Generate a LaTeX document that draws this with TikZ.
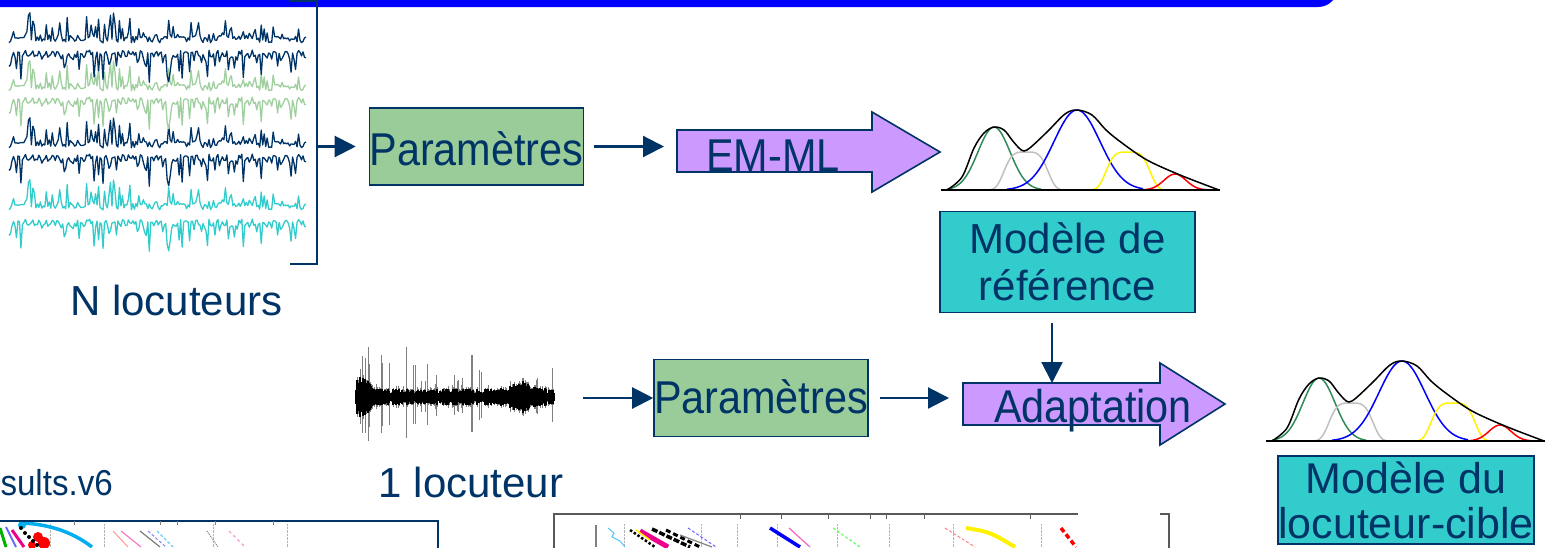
\documentclass[tikz,border=0pt]{standalone}
\usepackage{fontspec}
\setmainfont{Liberation Sans}
\usetikzlibrary{arrows.meta}
\definecolor{navy}{RGB}{0,51,102}
\definecolor{hdr}{RGB}{0,0,255}
\definecolor{pgreen}{RGB}{153,204,153}
\definecolor{mteal}{RGB}{51,204,204}
\definecolor{mpurple}{RGB}{204,153,255}
\definecolor{wgreen}{RGB}{160,208,160}
\definecolor{wcyan}{RGB}{51,204,204}
\definecolor{sgreen}{RGB}{46,139,87}
\definecolor{lgray}{RGB}{192,192,192}
\tikzset{
  conn/.style={navy, line width=2.2pt, -{Triangle[length=21pt,width=21pt]}},
  parbox/.style={draw=navy, line width=1.6pt, fill=pgreen, minimum width=213pt, minimum height=77pt, inner sep=0pt, text=navy, font=\fontsize{46}{52}\selectfont, text depth=0pt},
  modbox/.style={draw=navy, line width=1.6pt, fill=mteal, inner sep=0pt, text=navy, align=center},
  barrow/.style={draw=navy, line width=1.6pt, fill=mpurple, line join=miter},
  lab/.style={text=navy, inner sep=0pt},
  gline/.style={line width=1.5pt},
  wav/.style={line width=1.3pt, line join=round},
}
\newcommand\wavepair[3]{%
  \pgfmathsetseed{5}
  \draw[wav,#1] plot[domain=9:306,samples=200] (\x,{#2 + 3 - 7*rnd - 27*pow(rnd,6)});
  \pgfmathsetseed{9}
  \draw[wav,#1] plot[domain=9:306,samples=200] (\x,{#3 - 3 + 7*rnd + 29*pow(rnd,6)});
}
\newcommand\gmmcurves{%
  \draw[gline, sgreen] plot[domain=947:1041,samples=50] (\x,{190-63*exp(-0.5*((\x-994)/16)^2)});
  \draw[gline, lgray] plot[domain=988:1064,samples=50] (\x,{190-38*exp(-1*((\x-1026)/24)^4)});
  \draw[gline, blue] plot[domain=1007:1143,samples=60] (\x,{190-80*exp(-0.5*((\x-1077)/23)^2)});
  \draw[gline, yellow] plot[domain=1090:1166,samples=50] (\x,{190-38*exp(-1*((\x-1128)/24)^4)});
  \draw[gline, red] plot[domain=1141:1211,samples=40] (\x,{190-16*exp(-0.5*((\x-1175)/11)^2)});
  \draw[gline, black] plot[smooth, tension=0.55] coordinates {(947,190) (962,177) (974,148) (984,133) (994,127) (1004,130) (1012,140) (1019,148) (1024,151) (1031,147) (1048,131) (1065,114) (1077,110) (1092,115) (1106,130) (1122,143) (1147,160) (1180,175) (1219,190)};
  \draw[line width=1.8pt] (941,190) -- (1220,190);
}
\begin{document}
\begin{tikzpicture}[x=1pt,y=-1pt]
\useasboundingbox (0,0) rectangle (1546,547);
\clip (0,0) rectangle (1546,547);
% header bar
\fill[hdr, rounded corners=20pt] (-30,-40) rectangle (1338,7);

% N speakers waveforms
\wavepair{wcyan}{207}{222}
\wavepair{navy}{145}{157}
\wavepair{wgreen}{88}{100}
\wavepair{navy}{40}{53}

% bracket
\draw[navy, line width=2pt] (290,1) -- (317,1) -- (317,264) -- (290,264);
\coordinate (brk) at (317,146.5);

% top row
\node[parbox, text height=37pt] (par1) at (476.5,146.5) {\scalebox{0.9}[1]{Paramètres}};
\draw[conn] (brk) -- ([xshift=-13pt]par1.west);

\draw[barrow] (677,130) -- (872,130) -- (872,112) -- (940,152) -- (872,192) -- (872,172) -- (677,172) -- cycle;
\coordinate (emml-w) at (677,146.5);
\node[lab, anchor=base, font=\fontsize{46}{52}\selectfont] (emml) at (773,171) {\scalebox{0.9}[1]{EM-ML}};
\draw[conn] ([xshift=10pt]par1.east) -- ([xshift=-13pt]emml-w);

\gmmcurves

\node[modbox, minimum width=255pt, minimum height=101pt, font=\fontsize{42}{47}\selectfont] (ref) at (1067.5,262) {Modèle de\\référence};

\node[lab, anchor=base, font=\fontsize{42}{48}\selectfont] (nloc) at (176.5,315) {N locuteurs};

% second row: single speaker waveform
\pgfmathsetseed{3}
\foreach \i in {0,...,198}{
  \pgfmathsetmacro\xx{356+\i}
  \pgfmathsetmacro\env{1+1.6*exp(-min(((\xx-362)/8)^2,20))+0.9*exp(-min(((\xx-522)/14)^2,20))}
  \pgfmathsetmacro\hh{(4+6*rnd)*\env}
  \pgfmathsetmacro\ss{44*pow(rnd,12)}
  \draw[gray, line width=1pt] (\xx,397-\hh-\ss) -- (\xx,397+\hh+0.8*\ss);
  \draw[black, line width=1.1pt] (\xx,397-0.85*\hh) -- (\xx,397+0.85*\hh);
}
\coordinate (w1-e) at (583,398);

\node[parbox, text height=30pt] (par2) at (761,398) {\scalebox{0.9}[1]{Paramètres}};
\draw[conn] (w1-e) -- (par2.west);

\draw[barrow] (963,383) -- (1160,383) -- (1160,363) -- (1225,404) -- (1160,445) -- (1160,425) -- (963,425) -- cycle;
\coordinate (adapt-w) at (963,398);
\coordinate (adapt-n) at (1052,383);
\node[lab, anchor=base, font=\fontsize{46}{52}\selectfont] (adapt) at (1093,422) {\scalebox{0.9}[1]{Adaptation}};
\draw[conn] ([xshift=11pt]par2.east) -- ([xshift=-14pt]adapt-w);
\draw[conn] ([yshift=-10pt]ref.south -| adapt-n) -- (adapt-n);

\begin{scope}[shift={(325,251)}]
  \gmmcurves
\end{scope}

\node[modbox, minimum width=256pt, minimum height=88pt, font=\fontsize{43}{45}\selectfont] (cible) at (1406,500) {Modèle du\\locuteur-cible};

\node[lab, anchor=base, font=\fontsize{42}{48}\selectfont] (oneloc) at (471,497) {1 locuteur};
\node[lab, anchor=base east, font=\fontsize{36}{40}\selectfont] (res) at (113,495) {\scalebox{0.92}[1]{sults.v6}};

% bottom-left plot
\begin{scope}
  \clip (0,521) rectangle (438,547);
  \draw[gray!60, densely dotted] (50,524) -- (50,547) (104,524) -- (104,547) (213,524) -- (213,547) (287,524) -- (287,547);
  \draw[green!70!black, line width=3pt] (0,528) -- (6,547);
  \draw[blue!60, line width=2pt] (6,527) -- (16,547);
  \draw[magenta, line width=3pt] (12,530) -- (24,547);
  \draw[cyan, line width=3.5pt] (22,523) .. controls (45,524) and (70,530) .. (92,547);
  \fill[red] (38,537) circle (5pt) (44,543) circle (6pt) (32,545) circle (4pt);
  \fill[cyan] (22,525) circle (4pt);
  \fill[black] (21,528) circle (2pt) (25,533) circle (2pt) (29,537) circle (2pt) (33,541) circle (2pt) (37,545) circle (2pt);
  \draw[red!40, line width=1pt] (113,531) -- (128,547);
  \draw[magenta!50, line width=1.2pt] (121,531) -- (141,547);
  \draw[gray, line width=1.2pt] (140,531) -- (160,547);
  \draw[blue!50, densely dashed, line width=1pt] (148,531) -- (166,547);
  \draw[cyan!60, densely dashed, line width=1.2pt] (157,531) -- (173,547);
  \draw[gray, densely dotted, line width=1pt] (207,531) -- (218,547);
  \draw[magenta!40, dashed, line width=1.2pt] (229,531) -- (245,547);
\end{scope}
\draw[navy, line width=2pt] (-5,521) rectangle (438,560);
\foreach \t in {74,160,177,215,273} \draw[gray] (\t,521) -- (\t,525);

% bottom-middle plot
\begin{scope}
  \clip (554,514) rectangle (1169,547);
  \draw[gray!60, densely dotted] (624,524) -- (624,547) (701,524) -- (701,547) (737,524) -- (737,547) (777,524) -- (777,547) (837,524) -- (837,547) (889,524) -- (889,547) (953,524) -- (953,547) (1041,524) -- (1041,547);
  \draw[cyan!70, line width=1pt] (608,528) -- (614,533) -- (612,537) -- (620,541) -- (625,547);
  \draw[magenta, line width=5pt] (640,531) -- (668,547);
  \draw[yellow, line width=1.5pt] (636,530) -- (650,540);
  \draw[black, dotted, line width=2.5pt] (630,530) -- (655,547);
  \draw[black, line width=3.5pt, dash pattern=on 6pt off 2pt] (652,529) -- (690,547);
  \draw[black, line width=3pt, dash pattern=on 5pt off 3pt] (666,530) -- (700,547);
  \draw[gray, line width=1.2pt] (680,535) -- (712,547);
  \draw[blue!60, densely dashed, line width=1pt] (688,528) -- (716,547);
  \draw[blue, line width=3.5pt] (770,528) -- (800,547);
  \draw[magenta!60, line width=1.2pt] (789,528) -- (810,547);
  \draw[green!60, densely dashed, line width=1.2pt] (833,528) -- (860,547);
  \draw[red!50, densely dashed, line width=1pt] (945,528) -- (975,547);
  \draw[yellow, line width=4pt] (966,528) .. controls (990,532) .. (1015,547);
  \draw[red, line width=3.5pt, dash pattern=on 5pt off 3pt] (1061,528) -- (1076,547);
\end{scope}
\draw[gray!70!black, line width=1.5pt] (554,560) -- (554,514) -- (1078,514);
\draw[gray!70!black, line width=1.5pt] (1160,514) -- (1169,514) -- (1169,560);
\draw[gray, line width=1.5pt] (596,525) -- (596,547);
\foreach \t in {740,781,828,870,886,924,1030} \draw[gray!70!black] (\t,514) -- (\t,519);
\end{tikzpicture}
\end{document}
